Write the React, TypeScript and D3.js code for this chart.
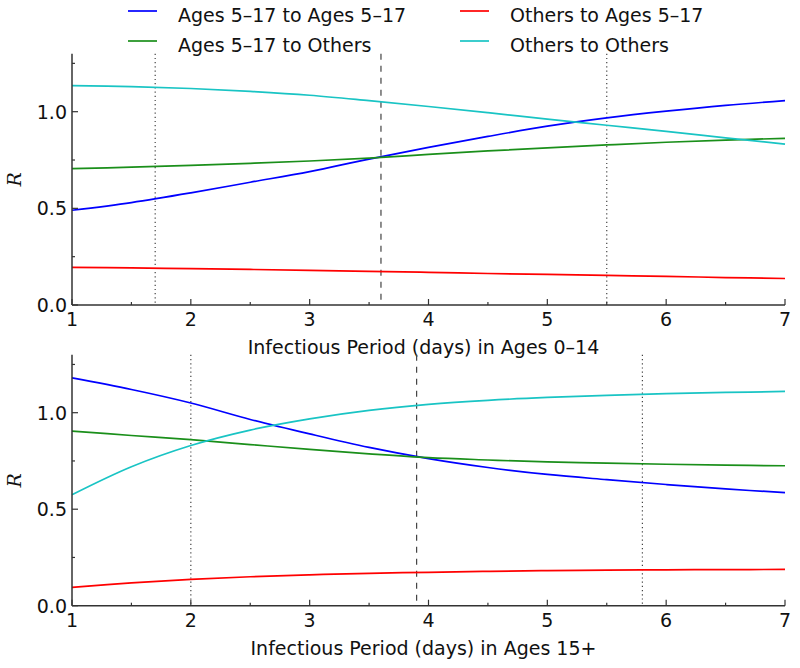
import React from "react";
import * as d3 from "d3";

const xs = [1, 1.5, 2, 2.5, 3, 3.5, 4, 4.5, 5, 5.5, 6, 6.5, 7];

// Top panel: infectious period in Ages 0–14
const topBlue = [0.49, 0.53, 0.58, 0.635, 0.69, 0.755, 0.815, 0.872, 0.925, 0.968, 1.003, 1.033, 1.057];
const topGreen = [0.705, 0.713, 0.722, 0.733, 0.745, 0.76, 0.779, 0.797, 0.813, 0.828, 0.842, 0.853, 0.862];
const topRed = [0.195, 0.192, 0.188, 0.184, 0.179, 0.174, 0.169, 0.163, 0.158, 0.153, 0.148, 0.142, 0.137];
const topCyan = [1.135, 1.13, 1.12, 1.105, 1.085, 1.057, 1.027, 0.995, 0.962, 0.93, 0.898, 0.865, 0.832];
const topVLines = [1.7, 3.6, 5.5];

// Bottom panel: infectious period in Ages 15+
const botBlue = [1.18, 1.12, 1.05, 0.965, 0.89, 0.82, 0.762, 0.716, 0.68, 0.653, 0.628, 0.605, 0.586];
const botGreen = [0.905, 0.882, 0.86, 0.835, 0.81, 0.787, 0.767, 0.755, 0.745, 0.739, 0.733, 0.728, 0.725];
const botRed = [0.095, 0.118, 0.136, 0.15, 0.16, 0.168, 0.173, 0.178, 0.182, 0.184, 0.186, 0.187, 0.188];
const botCyan = [0.575, 0.72, 0.83, 0.91, 0.968, 1.012, 1.043, 1.064, 1.079, 1.09, 1.099, 1.105, 1.11];
const botVLines = [2.0, 3.9, 5.8];

const seriesNames = ["Ages 5–17 to Ages 5–17", "Ages 5–17 to Others", "Others to Ages 5–17", "Others to Others"];
const seriesColors = ["#0000ff", "#1a8f1a", "#ff0000", "#19c4c4"];
const xTicks = [1, 2, 3, 4, 5, 6, 7];
const xMinor = [1.5, 2.5, 3.5, 4.5, 5.5, 6.5];
const yTicks = [0, 0.5, 1.0];
const yMinor = [0.25, 0.75, 1.25];

const FONT = "'DejaVu Sans', sans-serif";
const FS = 19;

function Panel({ top, bottom, data, vlines, xlabel }: { top: number; bottom: number; data: number[][]; vlines: number[]; xlabel: string }) {
  const left = 72, right = 785;
  const x = d3.scaleLinear().domain([1, 7]).range([left, right]);
  const y = d3.scaleLinear().domain([0, 1.3]).range([bottom, top]);
  const line = d3.line<number>().x((_, i) => x(xs[i])).y((d) => y(d)).curve(d3.curveCatmullRom.alpha(0.5));
  const axisColor = "#333";
  return (
    <g>
      {vlines.map((v, i) => (
        <line key={"v" + i} x1={x(v)} x2={x(v)} y1={y(1.3)} y2={y(0)} stroke="#444" strokeWidth={1.2}
          strokeDasharray={i === 1 ? "6,6" : "1.2,3"} />
      ))}
      {data.map((s, i) => (
        <path key={"s" + i} d={line(s) || ""} fill="none" stroke={seriesColors[i]} strokeWidth={1.7} />
      ))}
      <line x1={left} x2={left} y1={y(1.3)} y2={y(0)} stroke={axisColor} strokeWidth={1.5} />
      <line x1={left} x2={right} y1={y(0)} y2={y(0)} stroke={axisColor} strokeWidth={1.5} />
      {xTicks.map((t) => (
        <g key={"xt" + t}>
          <line x1={x(t)} x2={x(t)} y1={y(0)} y2={y(0) - 6} stroke={axisColor} strokeWidth={1.2} />
          <text x={x(t)} y={y(0) + 21} textAnchor="middle" fontFamily={FONT} fontSize={FS} fill="#111">{t}</text>
        </g>
      ))}
      {xMinor.map((t) => (
        <line key={"xm" + t} x1={x(t)} x2={x(t)} y1={y(0)} y2={y(0) - 3} stroke={axisColor} strokeWidth={1.2} />
      ))}
      {yTicks.map((t) => (
        <g key={"yt" + t}>
          <line x1={left} x2={left + 6} y1={y(t)} y2={y(t)} stroke={axisColor} strokeWidth={1.2} />
          <text x={left - 5} y={y(t)} dy="0.36em" textAnchor="end" fontFamily={FONT} fontSize={FS} fill="#111">{t.toFixed(1)}</text>
        </g>
      ))}
      {yMinor.map((t) => (
        <line key={"ym" + t} x1={left} x2={left + 3} y1={y(t)} y2={y(t)} stroke={axisColor} strokeWidth={1.2} />
      ))}
      <text x={(left + right) / 2 - 5} y={y(0) + 49} textAnchor="middle" fontFamily={FONT} fontSize={FS} fill="#111">{xlabel}</text>
      <text transform={`translate(21,${(top + bottom) / 2}) rotate(-90)`} textAnchor="middle" fontFamily="'DejaVu Serif', serif"
        fontStyle="italic" fontSize={FS} fill="#111">R</text>
    </g>
  );
}

export default function App() {
  const legendPos = [
    { lx: 128, tx: 178, y: 11 },
    { lx: 128, tx: 178, y: 41 },
    { lx: 460, tx: 510, y: 11 },
    { lx: 460, tx: 510, y: 41 },
  ];
  return (
    <svg width={800} height={668} style={{ position: "absolute", left: 0, top: 0, background: "#fff" }}>
      <rect width={800} height={668} fill="#fff" />
      <Panel top={53.7} bottom={305} data={[topBlue, topGreen, topRed, topCyan]} vlines={topVLines}
        xlabel="Infectious Period (days) in Ages 0–14" />
      <Panel top={354.8} bottom={605.7} data={[botBlue, botGreen, botRed, botCyan]} vlines={botVLines}
        xlabel="Infectious Period (days) in Ages 15+" />
      {seriesNames.map((n, i) => (
        <g key={"lg" + i}>
          <line x1={legendPos[i].lx} x2={legendPos[i].lx + 29} y1={legendPos[i].y} y2={legendPos[i].y}
            stroke={seriesColors[i]} strokeWidth={1.7} />
          <text x={legendPos[i].tx} y={legendPos[i].y + 11} fontFamily={FONT} fontSize={FS} fill="#111">{n}</text>
        </g>
      ))}
    </svg>
  );
}
